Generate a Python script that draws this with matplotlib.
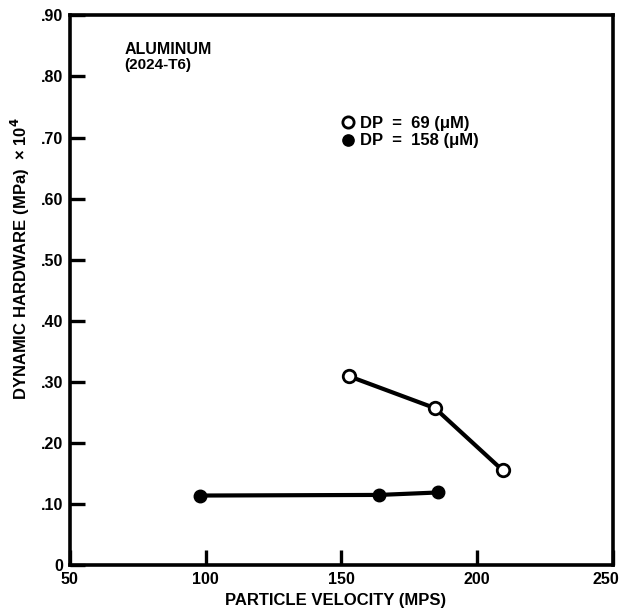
import matplotlib
matplotlib.use("Agg")
import matplotlib.transforms as mtransforms
from matplotlib import pyplot as plt

plt.rcParams["font.family"] = ["Liberation Sans", "DejaVu Sans"]
plt.rcParams["font.weight"] = "bold"

# DP = 69 (uM), open circles
v_small = [153, 184.5, 209.5]
h_small = [0.309, 0.257, 0.155]

# DP = 158 (uM), filled circles
v_large = [98, 164, 185.5]
h_large = [0.114, 0.115, 0.119]

x_ticks = [50, 100, 150, 200, 250]
y_ticks = [0, 0.10, 0.20, 0.30, 0.40, 0.50, 0.60, 0.70, 0.80, 0.90]
y_tick_labels = ["0", ".10", ".20", ".30", ".40", ".50", ".60", ".70", ".80", ".90"]

fig = plt.figure(figsize=(6.24, 6.13), dpi=100)
ax = fig.add_axes([0.112, 0.078, 0.870, 0.897])

ax.plot(v_small, h_small, color="black", lw=3, marker="o", ms=9,
        mfc="white", mec="black", mew=2, label="DP  =  69 (\u03bcM)", zorder=3)
ax.plot(v_large, h_large, color="black", lw=3, marker="o", ms=9,
        mfc="black", mec="black", label="DP  =  158 (\u03bcM)", zorder=3)

ax.set_xlim(50, 250)
ax.set_ylim(0, 0.90)
ax.set_xticks(x_ticks)
ax.set_yticks(y_ticks)
ax.set_yticklabels(y_tick_labels)
ax.tick_params(direction="in", length=11, width=2.4, labelsize=11.5, pad=5)
for lab in ax.get_xticklabels() + ax.get_yticklabels():
    lab.set_fontweight("bold")
# last x label sits a little left of the corner, as in the original
last = ax.get_xticklabels()[-1]
last.set_transform(last.get_transform() +
                   mtransforms.ScaledTranslation(-5 / 72, 0, fig.dpi_scale_trans))
for s in ax.spines.values():
    s.set_linewidth(2.6)

ax.set_xlabel("PARTICLE VELOCITY (MPS)", fontsize=12, fontweight="bold", labelpad=4, x=0.49)
ax.set_ylabel("DYNAMIC HARDWARE (MPa)  \u00d7 10$^4$", fontsize=12, fontweight="bold",
              labelpad=6, y=0.558)

ax.text(0.10, 0.938, "ALUMINUM", transform=ax.transAxes, fontsize=11.5,
        fontweight="bold", va="center")
ax.text(0.10, 0.910, "(2024-T6)", transform=ax.transAxes, fontsize=11,
        fontweight="bold", va="center")

leg = ax.legend(loc="upper left", bbox_to_anchor=(0.512, 0.817), frameon=False,
                handlelength=0, handletextpad=0.72, borderpad=0, borderaxespad=0,
                labelspacing=0.15, prop={"size": 12, "weight": "bold"}, markerscale=0.9)
for h in leg.legend_handles:
    h.set_linestyle("none")

fig.savefig("out.png", dpi=100)
